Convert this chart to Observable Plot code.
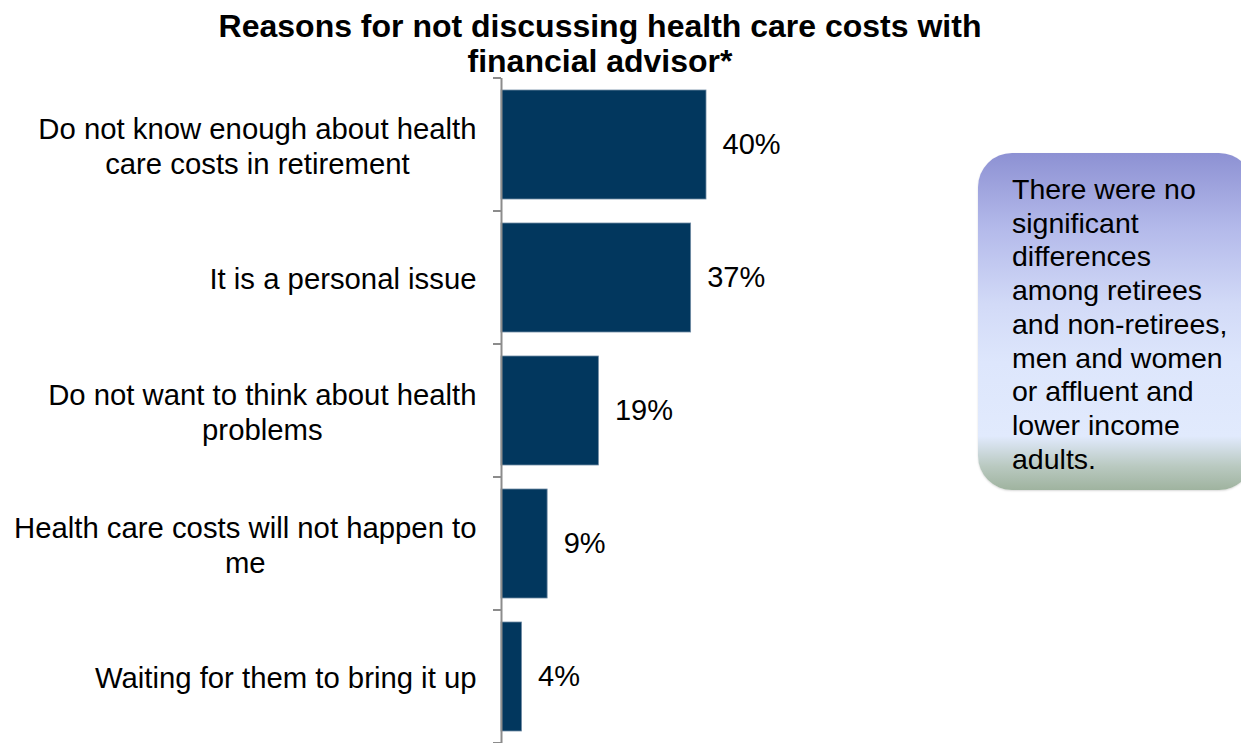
<!DOCTYPE html>
<html>
<head>
<meta charset="utf-8">
<script src="https://cdn.jsdelivr.net/npm/d3@7"></script>
<script src="https://cdn.jsdelivr.net/npm/@observablehq/plot@0.6"></script>
<style>
  html, body { margin: 0; padding: 0; background: #fff; overflow: hidden; }
  body { width: 1241px; height: 743px; position: relative; font-family: "Liberation Sans", Arial, sans-serif; }
  #title { width: 1200px; height: 78px; text-align: center; font-weight: bold; font-size: 32px; line-height: 35px; color: #000; padding-top: 9px; box-sizing: border-box; letter-spacing: 0; }
  #chart { position: absolute; left: 0; top: 78px; }
  #callout { position: absolute; left: 978px; top: 153px; width: 275px; height: 337px; border-radius: 34px; box-sizing: border-box; padding: 20px 0 0 34px; font-size: 28.5px; line-height: 33.7px; color: #000;
    background: linear-gradient(to bottom, #8d91d3 0%, #b3b9ea 22%, #d2daf7 45%, #dde6fc 62%, #e1eafd 84%, #b9c9c0 93%, #9fb39f 100%);
    box-shadow: 0 1px 2px rgba(0,0,0,0.15); }
</style>
</head>
<body>
<div id="title">Reasons for not discussing health care costs with<br>financial advisor*</div>
<div id="chart"></div>
<div id="callout">There were no<br>significant<br>differences<br>among retirees<br>and non-retirees,<br>men and women<br>or affluent and<br>lower income<br>adults.</div>
<script>
const reasons = [
  "Do not know enough about health\ncare costs in retirement",
  "It is a personal issue",
  "Do not want to think about health\nproblems",
  "Health care costs will not happen to\nme",
  "Waiting for them to bring it up"
];
const percents = [40, 37, 19, 9, 4];

const data = reasons.map((r, i) => ({reason: r, value: percents[i]}));

const chart = Plot.plot({
  width: 1241,
  height: 666,
  marginTop: 0,
  marginBottom: 0,
  marginLeft: 501,
  marginRight: 0,
  style: {fontFamily: "Liberation Sans, Arial, sans-serif", background: "transparent", overflow: "visible"},
  x: {domain: [0, 40], range: [501, 706], axis: null},
  y: {domain: reasons, paddingInner: 0.18, paddingOuter: 0.09, axis: null},
  marks: [
    Plot.barX(data, {x: "value", y: "reason", fill: "#02375e", stroke: "#6f8aa3", strokeWidth: 0.8}),
    Plot.ruleX([0], {stroke: "#8c8c8c", strokeWidth: 2}),
    Plot.text(data, {x: 0, y: "reason", text: "reason", dx: -25, textAnchor: "end", lineAnchor: "middle", lineHeight: 1.2, fontSize: 29.3, fill: "#000", className: "ylabels"}),
    Plot.text(data, {x: "value", y: "reason", text: d => d.value + "%", dx: 16, textAnchor: "start", fontSize: 29, fill: "#000"})
  ]
});
document.getElementById("chart").appendChild(chart);

// Tick marks at band boundaries, derived from the y scale
const ys = chart.scale("y");
const xs = chart.scale("x");
const half = (ys.step - ys.bandwidth) / 2;
const bounds = ys.domain.map(v => ys.apply(v) - half);
bounds.push(ys.apply(ys.domain[ys.domain.length - 1]) + ys.bandwidth + half);
const x0 = xs.apply(0);
d3.select(chart).append("g")
  .selectAll("line").data(bounds).join("line")
  .attr("x1", x0 - 8).attr("x2", x0)
  .attr("y1", d => d).attr("y2", d => d)
  .attr("stroke", "#8c8c8c").attr("stroke-width", 2);

// Center multi-line labels within their block (block right-aligned)
d3.select(chart).selectAll("g.ylabels text").each(function() {
  const tspans = this.querySelectorAll("tspan");
  if (tspans.length < 2) return;
  let w = 0;
  tspans.forEach(t => { w = Math.max(w, t.getComputedTextLength()); });
  this.setAttribute("text-anchor", "middle");
  tspans.forEach(t => t.setAttribute("x", -w / 2));
});
</script>
</body>
</html>
